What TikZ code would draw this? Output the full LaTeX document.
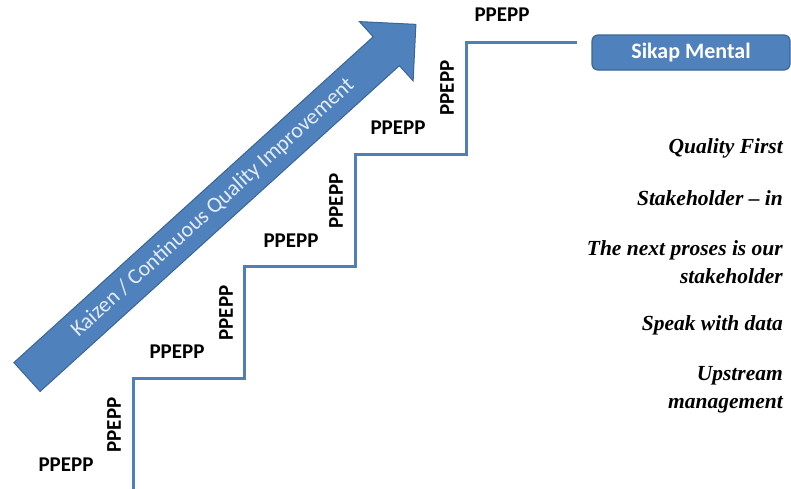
\documentclass[tikz,border=0pt]{standalone}
\usepackage{fontspec}
\newfontfamily\calibri{Carlito}
\newfontfamily\timesbi{LiberationSerif-BoldItalic.ttf}[Ligatures=TeX]
\usetikzlibrary{positioning}

\definecolor{officeblue}{HTML}{4F81BD}
\definecolor{officeedge}{HTML}{3A6596}
\definecolor{stairblue}{HTML}{4F7FB5}
\definecolor{arrowtext}{HTML}{E4ECF5}

\def\stepw{111}
\def\steph{112}

\begin{document}
\begin{tikzpicture}[x=1pt,y=-1pt]
    \tikzstyle{stair}=[draw=stairblue,line width=3pt]
    \tikzstyle{ppepp}=[font=\calibri\bfseries\fontsize{21}{24}\selectfont,inner sep=0pt]
    \tikzstyle{sikap}=[draw=officeedge,fill=officeblue,line width=1.2pt,rounded corners=6pt,
                       minimum width=198pt,minimum height=35pt,text=white,
                       font=\calibri\bfseries\fontsize{22}{24}\selectfont]
    \tikzstyle{item}=[anchor=east,align=right,inner sep=0pt,
                      font=\timesbi\fontsize{21.5}{28}\selectfont]

    \useasboundingbox (0,0) rectangle (791,488);

    %%%%%%%%%%%%%%%%%%%%%%%%%%%%%%%%%%%%%%%%%%%%
    %%% THE BIG ARROW
    %%%%%%%%%%%%%%%%%%%%%%%%%%%%%%%%%%%%%%%%%%%%
    \begin{scope}[shift={(27,377)},rotate=42.2]
        \draw[officeedge,fill=officeblue,line width=1pt,line join=miter]
            (0,-19.5) -- (485,-19.5) -- (485,-40) -- (525,0)
            -- (485,40) -- (485,19.5) -- (0,19.5) -- cycle;
    \end{scope}
    \node[rotate=42.2,text=arrowtext,font=\calibri\fontsize{22}{24}\selectfont] (kaizen) at (213,208)
        {Kaizen / Continuous Quality Improvement};

    %%%%%%%%%%%%%%%%%%%%%%%%%%%%%%%%%%%%%%%%%%%%
    %%% THE STAIRS
    %%%%%%%%%%%%%%%%%%%%%%%%%%%%%%%%%%%%%%%%%%%%
    \coordinate (start) at (133,490);
    \foreach \k in {1,...,4}
        \coordinate (C-\k) at ({133+\stepw*(\k-1)},{378-\steph*(\k-1)});
    \coordinate (end) at (577,42);

    \draw[stair] (start) -- (C-1) -| (C-2) -| (C-3) -| (C-4) -- (end);

    % labels on the treads and risers
    \foreach \k/\x/\y in {1/66/465, 2/177/352, 3/291/241, 4/398/128, 5/502/15}
        \node[ppepp] (H-\k) at (\x,\y) {PPEPP};
    \foreach \k/\x/\y in {1/114/425, 2/226/313, 3/336/201, 4/447/88}
        \node[ppepp,rotate=90] (V-\k) at (\x,\y) {PPEPP};

    %%%%%%%%%%%%%%%%%%%%%%%%%%%%%%%%%%%%%%%%%%%%
    %%% MENTAL ATTITUDE
    %%%%%%%%%%%%%%%%%%%%%%%%%%%%%%%%%%%%%%%%%%%%
    \node[sikap] (mental) at (691,52.5) {Sikap Mental};

    \foreach \k/\y/\txt in {1/148/{Quality First},
                            2/198/{Stakeholder -- in},
                            3/262/{The next proses is our\\stakeholder},
                            4/325/{Speak with data},
                            5/390/{Upstream\\management}}
        \node[item] (item-\k) at (783,\y) {\txt};
\end{tikzpicture}
\end{document}
